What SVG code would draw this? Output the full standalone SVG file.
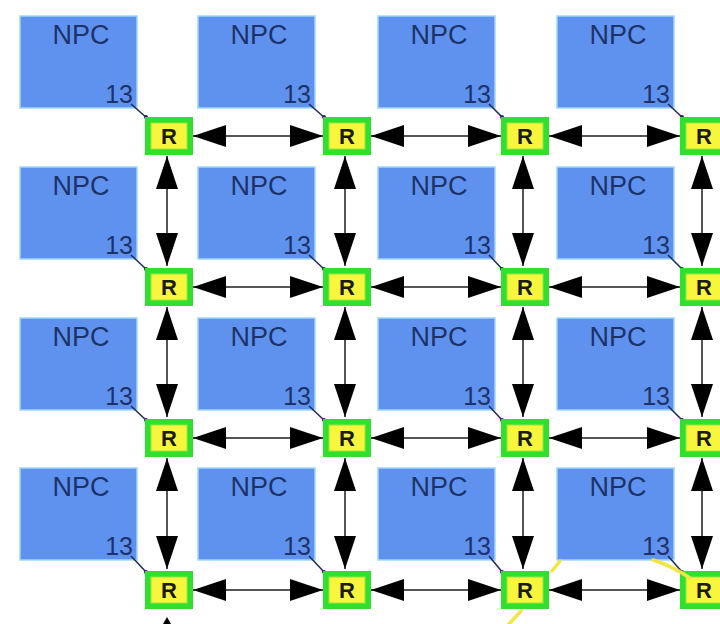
<svg xmlns="http://www.w3.org/2000/svg" width="720" height="624" viewBox="0 0 720 624">
  <style>
    .npc { fill: #5f92ee; stroke: #9fd8f5; stroke-width: 1.5; }
    .npc-label { font-family: "Liberation Sans", Arial, sans-serif; font-size: 27px; fill: #1d3268; text-anchor: middle; }
    .port { font-family: "Liberation Sans", Arial, sans-serif; font-size: 25px; fill: #1d3268; text-anchor: end; }
    .tap { stroke: #1d2a55; stroke-width: 1.5; fill: none; }
    .tap-dot { fill: #1d2a55; }
    .r-out { fill: #2fe02f; }
    .r-in { fill: #f7f53c; stroke: #9be63a; stroke-width: 1; }
    .r-label { font-family: "Liberation Sans", Arial, sans-serif; font-size: 22px; font-weight: bold; fill: #1a1a1a; text-anchor: middle; }
    .link { stroke: #555555; stroke-width: 2; fill: none; marker-start: url(#head); marker-end: url(#head); }
    .ring { stroke: #f2e640; stroke-width: 3.5; fill: none; stroke-linecap: round; }
  </style>
  <defs>
    <marker id="head" viewBox="0 0 33 22" refX="33" refY="11" markerWidth="33" markerHeight="22" markerUnits="userSpaceOnUse" orient="auto-start-reverse">
      <path d="M0,0 L33,11 L0,22 Z" fill="#000000"/>
    </marker>
  </defs>

  <rect width="720" height="624" fill="#ffffff"/>

  <!-- processing cores -->
  <g id="npc-1-1"><rect class="npc" x="20" y="16" width="117" height="92"/><text class="npc-label" x="81" y="44">NPC</text><text class="port" x="133" y="103">13</text></g>
  <g id="npc-1-2"><rect class="npc" x="198" y="16" width="117" height="92"/><text class="npc-label" x="259" y="44">NPC</text><text class="port" x="311" y="103">13</text></g>
  <g id="npc-1-3"><rect class="npc" x="378" y="16" width="117" height="92"/><text class="npc-label" x="439" y="44">NPC</text><text class="port" x="491" y="103">13</text></g>
  <g id="npc-1-4"><rect class="npc" x="557" y="16" width="117" height="92"/><text class="npc-label" x="618" y="44">NPC</text><text class="port" x="670" y="103">13</text></g>

  <g id="npc-2-1"><rect class="npc" x="20" y="167" width="117" height="92"/><text class="npc-label" x="81" y="195">NPC</text><text class="port" x="133" y="254">13</text></g>
  <g id="npc-2-2"><rect class="npc" x="198" y="167" width="117" height="92"/><text class="npc-label" x="259" y="195">NPC</text><text class="port" x="311" y="254">13</text></g>
  <g id="npc-2-3"><rect class="npc" x="378" y="167" width="117" height="92"/><text class="npc-label" x="439" y="195">NPC</text><text class="port" x="491" y="254">13</text></g>
  <g id="npc-2-4"><rect class="npc" x="557" y="167" width="117" height="92"/><text class="npc-label" x="618" y="195">NPC</text><text class="port" x="670" y="254">13</text></g>

  <g id="npc-3-1"><rect class="npc" x="20" y="318" width="117" height="92"/><text class="npc-label" x="81" y="346">NPC</text><text class="port" x="133" y="405">13</text></g>
  <g id="npc-3-2"><rect class="npc" x="198" y="318" width="117" height="92"/><text class="npc-label" x="259" y="346">NPC</text><text class="port" x="311" y="405">13</text></g>
  <g id="npc-3-3"><rect class="npc" x="378" y="318" width="117" height="92"/><text class="npc-label" x="439" y="346">NPC</text><text class="port" x="491" y="405">13</text></g>
  <g id="npc-3-4"><rect class="npc" x="557" y="318" width="117" height="92"/><text class="npc-label" x="618" y="346">NPC</text><text class="port" x="670" y="405">13</text></g>

  <g id="npc-4-1"><rect class="npc" x="20" y="468" width="117" height="92"/><text class="npc-label" x="81" y="496">NPC</text><text class="port" x="133" y="555">13</text></g>
  <g id="npc-4-2"><rect class="npc" x="198" y="468" width="117" height="92"/><text class="npc-label" x="259" y="496">NPC</text><text class="port" x="311" y="555">13</text></g>
  <g id="npc-4-3"><rect class="npc" x="378" y="468" width="117" height="92"/><text class="npc-label" x="439" y="496">NPC</text><text class="port" x="491" y="555">13</text></g>
  <g id="npc-4-4"><rect class="npc" x="557" y="468" width="117" height="92"/><text class="npc-label" x="618" y="496">NPC</text><text class="port" x="670" y="555">13</text></g>

  <!-- core-to-router taps -->
  <g id="taps">
    <path class="tap" d="M131,104 L147,118 M309,104 L325,118 M489,104 L503,118 M668,104 L683,118"/>
    <path class="tap" d="M131,255 L147,270 M309,255 L325,270 M489,255 L503,270 M668,255 L683,270"/>
    <path class="tap" d="M131,406 L147,421 M309,406 L325,421 M489,406 L503,421 M668,406 L683,421"/>
    <path class="tap" d="M131,556 L147,573 M309,556 L325,573 M489,556 L503,573 M668,556 L683,573"/>
    <g class="tap-dot">
      <circle cx="146" cy="117" r="2"/><circle cx="324" cy="117" r="2"/><circle cx="502" cy="117" r="2"/><circle cx="682" cy="117" r="2"/>
      <circle cx="146" cy="269" r="2"/><circle cx="324" cy="269" r="2"/><circle cx="502" cy="269" r="2"/><circle cx="682" cy="269" r="2"/>
      <circle cx="146" cy="420" r="2"/><circle cx="324" cy="420" r="2"/><circle cx="502" cy="420" r="2"/><circle cx="682" cy="420" r="2"/>
      <circle cx="146" cy="572" r="2"/><circle cx="324" cy="572" r="2"/><circle cx="502" cy="572" r="2"/><circle cx="682" cy="572" r="2"/>
    </g>
  </g>

  <!-- mesh links -->
  <g id="links">
    <!-- horizontal -->
    <line class="link" x1="193" y1="136" x2="323" y2="136"/>
    <line class="link" x1="371" y1="136" x2="501" y2="136"/>
    <line class="link" x1="549" y1="136" x2="680" y2="136"/>
    <line class="link" x1="193" y1="287" x2="323" y2="287"/>
    <line class="link" x1="371" y1="287" x2="501" y2="287"/>
    <line class="link" x1="549" y1="287" x2="680" y2="287"/>
    <line class="link" x1="193" y1="438" x2="323" y2="438"/>
    <line class="link" x1="371" y1="438" x2="501" y2="438"/>
    <line class="link" x1="549" y1="438" x2="680" y2="438"/>
    <line class="link" x1="193" y1="590" x2="323" y2="590"/>
    <line class="link" x1="371" y1="590" x2="501" y2="590"/>
    <line class="link" x1="549" y1="590" x2="680" y2="590"/>
    <!-- vertical -->
    <line class="link" x1="167" y1="156" x2="167" y2="266"/>
    <line class="link" x1="345" y1="156" x2="345" y2="266"/>
    <line class="link" x1="523" y1="156" x2="523" y2="266"/>
    <line class="link" x1="702" y1="156" x2="702" y2="266"/>
    <line class="link" x1="167" y1="307" x2="167" y2="417"/>
    <line class="link" x1="345" y1="307" x2="345" y2="417"/>
    <line class="link" x1="523" y1="307" x2="523" y2="417"/>
    <line class="link" x1="702" y1="307" x2="702" y2="417"/>
    <line class="link" x1="167" y1="458" x2="167" y2="569"/>
    <line class="link" x1="345" y1="458" x2="345" y2="569"/>
    <line class="link" x1="523" y1="458" x2="523" y2="569"/>
    <line class="link" x1="702" y1="458" x2="702" y2="569"/>
    <!-- tip of the link leaving the bottom edge -->
    <path d="M167,617 L163,624 L171,624 Z" fill="#000000"/>
  </g>

  <!-- routers -->
  <g id="r-1-1"><rect class="r-out" x="145" y="117" width="48" height="38"/><rect class="r-in" x="151" y="123" width="36" height="26"/><text class="r-label" x="169" y="144">R</text></g>
  <g id="r-1-2"><rect class="r-out" x="323" y="117" width="48" height="38"/><rect class="r-in" x="329" y="123" width="36" height="26"/><text class="r-label" x="347" y="144">R</text></g>
  <g id="r-1-3"><rect class="r-out" x="501" y="117" width="48" height="38"/><rect class="r-in" x="507" y="123" width="36" height="26"/><text class="r-label" x="525" y="144">R</text></g>
  <g id="r-1-4"><rect class="r-out" x="680" y="117" width="48" height="38"/><rect class="r-in" x="686" y="123" width="36" height="26"/><text class="r-label" x="704" y="144">R</text></g>

  <g id="r-2-1"><rect class="r-out" x="145" y="268" width="48" height="38"/><rect class="r-in" x="151" y="274" width="36" height="26"/><text class="r-label" x="169" y="295">R</text></g>
  <g id="r-2-2"><rect class="r-out" x="323" y="268" width="48" height="38"/><rect class="r-in" x="329" y="274" width="36" height="26"/><text class="r-label" x="347" y="295">R</text></g>
  <g id="r-2-3"><rect class="r-out" x="501" y="268" width="48" height="38"/><rect class="r-in" x="507" y="274" width="36" height="26"/><text class="r-label" x="525" y="295">R</text></g>
  <g id="r-2-4"><rect class="r-out" x="680" y="268" width="48" height="38"/><rect class="r-in" x="686" y="274" width="36" height="26"/><text class="r-label" x="704" y="295">R</text></g>

  <g id="r-3-1"><rect class="r-out" x="145" y="419" width="48" height="38"/><rect class="r-in" x="151" y="425" width="36" height="26"/><text class="r-label" x="169" y="446">R</text></g>
  <g id="r-3-2"><rect class="r-out" x="323" y="419" width="48" height="38"/><rect class="r-in" x="329" y="425" width="36" height="26"/><text class="r-label" x="347" y="446">R</text></g>
  <g id="r-3-3"><rect class="r-out" x="501" y="419" width="48" height="38"/><rect class="r-in" x="507" y="425" width="36" height="26"/><text class="r-label" x="525" y="446">R</text></g>
  <g id="r-3-4"><rect class="r-out" x="680" y="419" width="48" height="38"/><rect class="r-in" x="686" y="425" width="36" height="26"/><text class="r-label" x="704" y="446">R</text></g>

  <g id="r-4-1"><rect class="r-out" x="145" y="571" width="48" height="38"/><rect class="r-in" x="151" y="577" width="36" height="26"/><text class="r-label" x="169" y="598">R</text></g>
  <g id="r-4-2"><rect class="r-out" x="323" y="571" width="48" height="38"/><rect class="r-in" x="329" y="577" width="36" height="26"/><text class="r-label" x="347" y="598">R</text></g>
  <g id="r-4-3"><rect class="r-out" x="501" y="571" width="48" height="38"/><rect class="r-in" x="507" y="577" width="36" height="26"/><text class="r-label" x="525" y="598">R</text></g>
  <g id="r-4-4"><rect class="r-out" x="680" y="571" width="48" height="38"/><rect class="r-in" x="686" y="577" width="36" height="26"/><text class="r-label" x="704" y="598">R</text></g>

  <!-- highlight strokes around the lower-right routers -->
  <g id="highlight">
    <path class="ring" d="M560,561 L552,571"/>
    <path class="ring" d="M521,611 L509,624"/>
    <path class="ring" d="M653,560 Q672,566 690,578"/>
  </g>
</svg>
